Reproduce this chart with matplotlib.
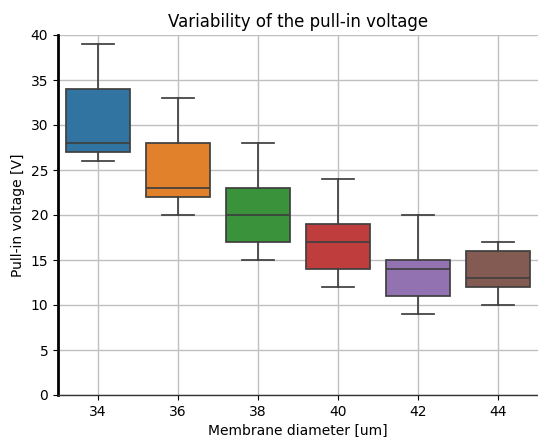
import matplotlib
matplotlib.use("Agg")
import matplotlib.pyplot as plt

diameters = ["34", "36", "38", "40", "42", "44"]
whisker_low = [26, 20, 15, 12, 9, 10]
q1 = [27, 22, 17, 14, 11, 12]
median = [28, 23, 20, 17, 14, 13]
q3 = [34, 28, 23, 19, 15, 16]
whisker_high = [39, 33, 28, 24, 20, 17]
colors = ["#3274a1", "#e1812c", "#3a923a", "#c03d3e", "#9372b2", "#845b53"]

fig = plt.figure(figsize=(5.38, 4.37), dpi=100)
ax = fig.add_axes([58/538, 42/437, 480/538, 360/437])

stats = []
for i, d in enumerate(diameters):
    stats.append(dict(label=d, whislo=whisker_low[i], q1=q1[i], med=median[i],
                      q3=q3[i], whishi=whisker_high[i], fliers=[]))

line_col = "#3f3f3f"
bp = ax.bxp(stats, positions=range(len(diameters)), widths=0.8, patch_artist=True,
            showfliers=False,
            boxprops=dict(edgecolor=line_col, linewidth=1.25),
            medianprops=dict(color=line_col, linewidth=1.25),
            whiskerprops=dict(color=line_col, linewidth=1.25),
            capprops=dict(color=line_col, linewidth=1.25))
for patch, c in zip(bp["boxes"], colors):
    patch.set_facecolor(c)
for cap in bp["caps"]:
    x = cap.get_xdata()
    m = (x[0] + x[1]) / 2
    cap.set_xdata([m - 0.2, m + 0.2])

ax.set_xlim(-0.5, len(diameters) - 0.5)
ax.set_ylim(0, 40)
ax.set_yticks(range(0, 41, 5))
ax.set_xticks(range(len(diameters)))
ax.set_xticklabels(diameters)
ax.grid(True, color="#c0c0c0", linewidth=1)
ax.set_axisbelow(True)
ax.spines["top"].set_visible(False)
ax.spines["right"].set_visible(False)
ax.spines["left"].set_linewidth(2)
ax.spines["left"].set_color("black")
ax.spines["bottom"].set_linewidth(1)
ax.spines["bottom"].set_color("#333333")
ax.set_xlabel("Membrane diameter [um]")
ax.set_ylabel("Pull-in voltage [V]")
ax.set_title("Variability of the pull-in voltage")

fig.savefig("out.png", dpi=100)
